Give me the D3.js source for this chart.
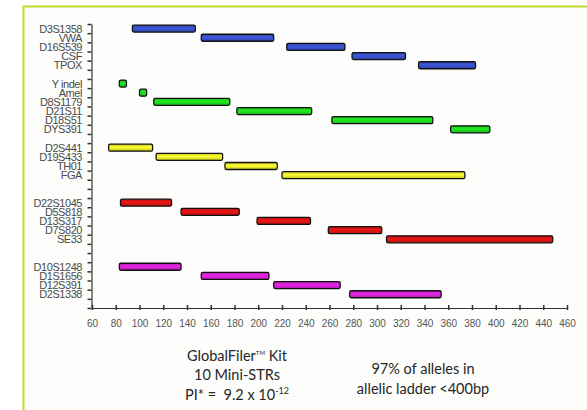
<!DOCTYPE html>
<html><head><meta charset="utf-8">
<script src="https://cdn.jsdelivr.net/npm/d3@7"></script>
<style>
html,body{margin:0;padding:0;background:#fff;}
svg{display:block;}
</style></head>
<body>
<svg id="c" width="587" height="410"></svg>
<script>
// ---- data ----
const markers = ["D3S1358","VWA","D16S539","CSF","TPOX","",
  "Y indel","Amel","D8S1179","D21S11","D18S51","DYS391","",
  "D2S441","D19S433","TH01","FGA","","",
  "D22S1045","D5S818","D13S317","D7S820","SE33","","",
  "D10S1248","D1S1656","D12S391","D2S1338"];
const dyes = ["blue","blue","blue","blue","blue","",
  "green","green","green","green","green","green","",
  "yellow","yellow","yellow","yellow","","",
  "red","red","red","red","red","","",
  "magenta","magenta","magenta","magenta"];
const sizeStart = [94,152,224,279,335,null,
  83,100,112,182,262,362,null,
  74,114,172,220,null,null,
  84,135,199,259,308,null,null,
  83,152,213,277];
const sizeEnd = [147,213,273,324,383,null,
  89,106,176,245,347,395,null,
  111,170,216,374,null,null,
  127,184,244,304,448,null,null,
  135,209,269,354];
const xTicks = [60,80,100,120,140,160,180,200,220,240,260,280,300,320,340,360,380,400,420,440,460];
const dyeColors = {blue:"#3650c8", green:"#1fd81f", yellow:"#e8e82a", red:"#d81414", magenta:"#d423d4"};

// ---- chart ----
const svg = d3.select("#c");
// frame
svg.append("rect").attr("x",23.5).attr("y",6.5).attr("width",600).attr("height",420)
  .attr("fill","#fdfefb").attr("stroke","#c4da2c").attr("stroke-width",2);

const x = d3.scaleLinear().domain([60,460]).range([92,567]);
const y = d3.scaleLinear().domain([-0.5,30.5]).range([24,308]);

const defs = svg.append("defs");
Object.entries(dyeColors).forEach(([k,c])=>{
  const g = defs.append("linearGradient").attr("id","g-"+k).attr("x1",0).attr("x2",0).attr("y1",0).attr("y2",1);
  g.append("stop").attr("offset","0%").attr("stop-color",d3.color(c).darker(0.4));
  g.append("stop").attr("offset","45%").attr("stop-color",d3.color(c).brighter(0.25));
  g.append("stop").attr("offset","100%").attr("stop-color",d3.color(c).darker(0.5));
});

// y axis: ticks at row boundaries
const boundaries = d3.range(-0.5, 31, 1);
const yAxis = svg.append("g").attr("transform","translate(91.5,0)")
  .call(d3.axisLeft(y).tickValues(boundaries).tickSize(4).tickSizeOuter(0).tickFormat(""));
yAxis.select(".domain").attr("stroke","#333").attr("stroke-width",1.2);
yAxis.selectAll(".tick line").attr("stroke","#333").attr("stroke-width",1.5);

// y labels
const rows = markers.map((m,i)=>({m,i,dye:dyes[i],s:sizeStart[i],e:sizeEnd[i]}));
svg.append("g").selectAll("text").data(rows.filter(r=>r.m)).join("text")
  .attr("x",82).attr("y",r=>y(r.i)).attr("dy","0.36em")
  .attr("text-anchor","end")
  .attr("font-family","Liberation Sans, Arial, sans-serif")
  .attr("font-size",11).attr("letter-spacing","-0.45")
  .attr("fill","#4a4a4a")
  .text(r=>r.m);

// x axis
const xAxis = svg.append("g").attr("transform","translate(0,308)")
  .call(d3.axisBottom(x).tickValues(xTicks).tickSize(3).tickSizeOuter(0).tickPadding(9));
xAxis.select(".domain").attr("stroke","#333").attr("stroke-width",1.2);
xAxis.selectAll(".tick line").attr("stroke","#333").attr("stroke-width",1.5).attr("y1",-3).attr("y2",2);
xAxis.selectAll(".tick text").attr("font-family","Liberation Sans, Arial, sans-serif")
  .attr("font-size",10).attr("fill","#555");

// bars
const bh = 7;
svg.append("g").selectAll("rect").data(rows.filter(r=>r.s!=null)).join("rect")
  .attr("x",r=>x(r.s)).attr("width",r=>x(r.e)-x(r.s))
  .attr("y",r=>y(r.i)-bh/2).attr("height",bh)
  .attr("rx",1.5)
  .attr("fill",r=>`url(#g-${r.dye})`)
  .attr("stroke","#111").attr("stroke-width",1.3);

// bottom notes
const noteFont = "Lato, 'Open Sans', sans-serif";
const n1 = svg.append("text").attr("x",237).attr("text-anchor","middle")
  .attr("font-family",noteFont).attr("font-size",14.5).attr("fill","#262626");
const l1 = n1.append("tspan").attr("x",237).attr("y",361);
l1.append("tspan").text("GlobalFiler");
l1.append("tspan").text("TM").attr("font-size",6).attr("dy",-6);
l1.append("tspan").text(" Kit").attr("dy",6);
n1.append("tspan").attr("x",237).attr("y",380).text("10 Mini-STRs");
const l3 = n1.append("tspan").attr("x",237).attr("y",400);
l3.append("tspan").text("PI* =\u00a0 9.2 x 10");
l3.append("tspan").text("-12").attr("font-size",9).attr("dy",-6);

const n2 = svg.append("text").attr("text-anchor","middle")
  .attr("font-family",noteFont).attr("font-size",14.5).attr("fill","#262626");
n2.append("tspan").attr("x",423).attr("y",374).text("97% of alleles in");
n2.append("tspan").attr("x",423).attr("y",394).text("allelic ladder <400bp");
</script>
</body></html>
